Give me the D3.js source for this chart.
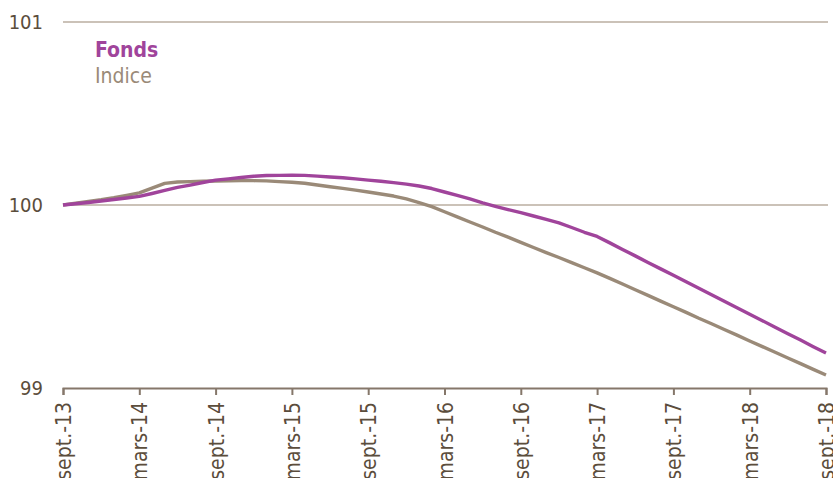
<!DOCTYPE html>
<html><head><meta charset="utf-8">
<script src="https://cdn.jsdelivr.net/npm/d3@7"></script>
<style>
html,body{margin:0;padding:0;background:#fff;}
svg text{font-family:"DejaVu Sans Condensed","DejaVu Sans",sans-serif;font-stretch:condensed;}
</style></head>
<body><svg id="c" width="833" height="478"></svg>
<script>
const tickLabels = ["sept.-13","mars-14","sept.-14","mars-15","sept.-15","mars-16","sept.-16","mars-17","sept.-17","mars-18","sept.-18"];
const yTicks = [99, 100, 101];
const fonds = [100.000,100.007,100.014,100.022,100.030,100.038,100.047,100.063,100.080,100.096,100.109,100.123,100.136,100.143,100.150,100.157,100.161,100.162,100.163,100.162,100.158,100.153,100.149,100.143,100.136,100.130,100.122,100.114,100.104,100.090,100.071,100.052,100.033,100.012,99.993,99.975,99.958,99.940,99.921,99.902,99.877,99.851,99.828,99.793,99.757,99.722,99.686,99.651,99.616,99.580,99.545,99.510,99.474,99.439,99.403,99.368,99.332,99.297,99.262,99.226,99.191];
const indice = [100.000,100.010,100.020,100.029,100.040,100.053,100.066,100.092,100.118,100.126,100.128,100.130,100.131,100.132,100.133,100.133,100.132,100.128,100.124,100.119,100.109,100.100,100.091,100.081,100.071,100.060,100.049,100.033,100.013,99.991,99.963,99.935,99.907,99.880,99.851,99.824,99.796,99.768,99.740,99.713,99.685,99.657,99.629,99.599,99.568,99.537,99.506,99.475,99.444,99.413,99.381,99.351,99.320,99.289,99.257,99.226,99.195,99.164,99.133,99.102,99.071];
const seriesNames = ["Fonds","Indice"];
const colors = {"Fonds":"#a0449b","Indice":"#9a8a78"};

const svg = d3.select("#c");
const x = d3.scaleLinear().domain([0, fonds.length-1]).range([63, 826]);
const y = d3.scaleLinear().domain([99, 101]).range([388, 22]);
const textColor = "#5b4d3c";

// gridlines
svg.append("g").selectAll("line").data(yTicks.filter(d=>d!==99)).join("line")
  .attr("x1",63).attr("x2",828).attr("y1",d=>y(d)).attr("y2",d=>y(d))
  .attr("stroke","#cbc2b8").attr("stroke-width",2);

// y labels
svg.append("g").selectAll("text").data(yTicks).join("text")
  .attr("x",43).attr("y",d=>y(d)).attr("dy","0.36em").attr("text-anchor","end")
  .attr("font-size",20).attr("fill",textColor).text(d=>d);

// x axis
const xa = d3.axisBottom(x).tickValues(d3.range(0, 61, 6)).tickSize(7).tickFormat((d,i)=>tickLabels[i]);
const gx = svg.append("g").attr("transform",`translate(0,${y(99)})`).call(xa);
gx.select(".domain").attr("stroke","#85776a").attr("stroke-width",2);
gx.selectAll(".tick line").attr("stroke","#85776a").attr("stroke-width",2);
gx.selectAll(".tick text").attr("font-size",21).attr("fill",textColor)
  .attr("transform","rotate(-90)").attr("text-anchor","end")
  .attr("x",-14).attr("y",0).attr("dy","0.36em");

// lines
const line = d3.line().x((d,i)=>x(i)).y(d=>y(d));
[["Indice",indice],["Fonds",fonds]].forEach(([n,arr])=>{
  svg.append("path").datum(arr).attr("d",line).attr("fill","none")
    .attr("stroke",colors[n]).attr("stroke-width",3.4).attr("stroke-linejoin","round");
});

// legend
svg.append("text").attr("x",95).attr("y",57).attr("font-size",21).attr("font-weight","bold")
  .attr("fill",colors.Fonds).text(seriesNames[0]);
svg.append("text").attr("x",95).attr("y",83).attr("font-size",21)
  .attr("fill",colors.Indice).text(seriesNames[1]);
</script></body></html>
